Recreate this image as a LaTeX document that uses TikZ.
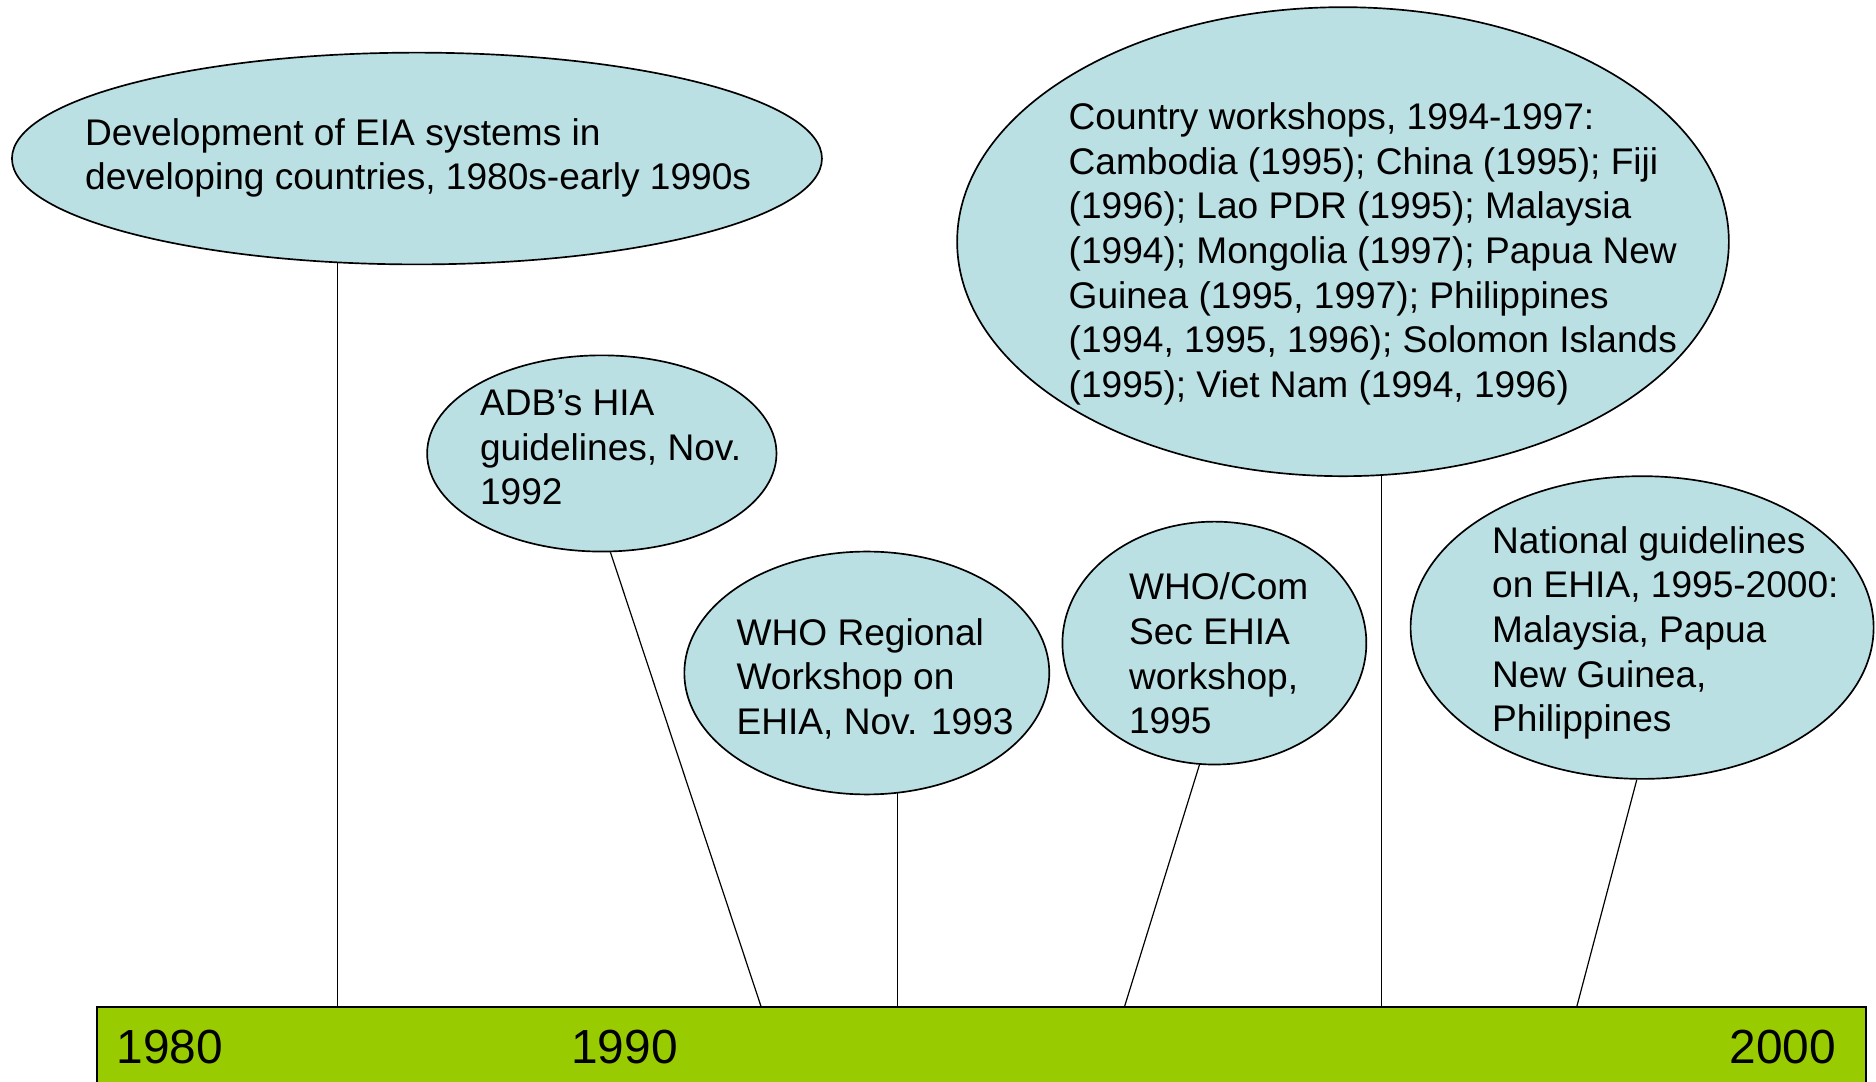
\documentclass[tikz,border=0pt]{standalone}
\usepackage{fontspec}
\setmainfont{Liberation Sans}
\usepackage{tikz}
\usetikzlibrary{backgrounds,positioning,shapes.geometric}
\definecolor{bubble}{RGB}{187,224,227}
\definecolor{barfill}{RGB}{153,204,0}
\tikzset{%
	event/.style     = {draw, ellipse, fill=bubble, line width=1.4pt, inner sep=0pt}, % bubble
	evtext/.style    = {align=left, inner sep=0pt, anchor=north west, font=\fontsize{31}{37.3}\selectfont}, % text in a bubble
	timebar/.style   = {draw, rectangle, fill=barfill, line width=1.5pt, inner sep=0pt, anchor=north west}, % time axis
	yearlabel/.style = {inner sep=0pt, anchor=base, font=\fontsize{40}{48}\selectfont},
	waypoint/.style  = {coordinate},
	link/.style      = {line width=1pt},
}

\begin{document}
\begin{tikzpicture}[x=1pt,y=-1pt]
	\clip (0,0) rectangle (1568,904);

	% time axis
	\node [timebar,minimum width=1479pt,minimum height=120pt] (bar) at (80,841) {};
	\node [yearlabel] (y1980) at (142,888.5) {1980};
	\node [yearlabel] (y1990) at (522,888.5) {1990};
	\node [yearlabel] (y2000) at (1490,888.5) {2000};

	% bubbles
	\node [event,minimum width=677pt,minimum height=177pt] (eia) at (348.5,132.5) {};
	\node [evtext] (eiatxt) at (71,98.7) {Development of EIA systems in\\developing countries, 1980s-early 1990s};

	\node [event,minimum width=292pt,minimum height=164pt] (adb) at (503,379) {};
	\node [evtext] (adbtxt) at (401,325.7) {ADB’s HIA\\guidelines, Nov.\\1992};

	\node [event,minimum width=305pt,minimum height=203pt] (who) at (724.5,562.5) {};
	\node [evtext] (whotxt) at (615.5,516.7) {WHO Regional\\Workshop on\\EHIA, Nov. 1993};

	\node [event,minimum width=254pt,minimum height=203pt] (comsec) at (1015,537.5) {};
	\node [evtext] (comsectxt) at (943.5,478.7) {WHO/Com\\Sec EHIA\\workshop,\\1995};

	\node [event,minimum width=645pt,minimum height=392pt] (country) at (1122.5,202) {};
	\node [evtext] (countrytxt) at (893,85.7) {Country workshops, 1994-1997:\\Cambodia (1995); China (1995); Fiji\\(1996); Lao PDR (1995); Malaysia\\(1994); Mongolia (1997); Papua New\\Guinea (1995, 1997); Philippines\\(1994, 1995, 1996); Solomon Islands\\(1995); Viet Nam (1994, 1996)};

	\node [event,minimum width=387pt,minimum height=253pt] (natl) at (1372.5,524.5) {};
	\node [evtext] (natltxt) at (1247,439.7) {National guidelines\\on EHIA, 1995-2000:\\Malaysia, Papua\\New Guinea,\\Philippines};

	% feet of the links on the axis
	\node [waypoint] (feia) at (282,841) {};
	\node [waypoint] (fadb) at (636,841) {};
	\node [waypoint] (fwho) at (750,841) {};
	\node [waypoint] (fcomsec) at (940,841) {};
	\node [waypoint] (fcountry) at (1155,841) {};
	\node [waypoint] (fnatl) at (1318,841) {};

	\begin{scope}[on background layer]
		\draw[link] (feia) -- (feia |- eia.center);
		\draw[link] (fadb) -- (adb.275);
		\draw[link] (fwho) -- (fwho |- who.center);
		\draw[link] (fcomsec) -- (comsec.263);
		\draw[link] (fcountry) -- (fcountry |- country.center);
		\draw[link] (fnatl) -- (natl.268);
	\end{scope}
\end{tikzpicture}
\end{document}
